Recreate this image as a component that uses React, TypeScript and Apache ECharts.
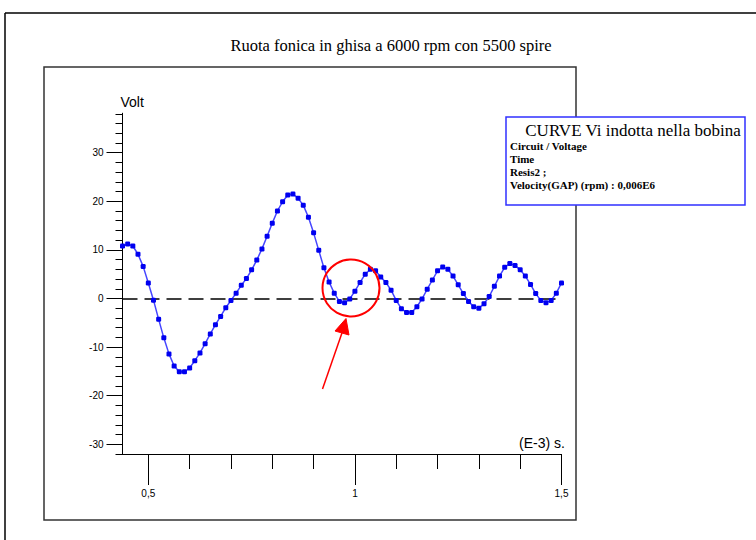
import React, { useEffect, useRef } from "react";
import * as echarts from "echarts";

const chartTitle = "Ruota fonica in ghisa a 6000 rpm con 5500 spire";
const yAxisName = "Volt";
const xAxisName = "(E-3) s.";
const legendTitle = "CURVE Vi indotta nella bobina";
const legendLines = ["Circuit / Voltage", "Time", "Resis2 ;", "Velocity(GAP) (rpm) : 0,006E6"];

// time in ms (E-3 s)
const times = [
  0.4375, 0.45, 0.4625, 0.475, 0.4875, 0.5, 0.5125, 0.525, 0.5375, 0.55,
  0.5625, 0.575, 0.5875, 0.6, 0.6125, 0.625, 0.6375, 0.65, 0.6625, 0.675,
  0.6875, 0.7, 0.7125, 0.725, 0.7375, 0.75, 0.7625, 0.775, 0.7875, 0.8,
  0.8125, 0.825, 0.8375, 0.85, 0.8625, 0.875, 0.8875, 0.9, 0.9125, 0.925,
  0.9375, 0.95, 0.9625, 0.975, 0.9875, 1.0, 1.0125, 1.025, 1.0375, 1.05,
  1.0625, 1.075, 1.0875, 1.1, 1.1125, 1.125, 1.1375, 1.15, 1.1625, 1.175,
  1.1875, 1.2, 1.2125, 1.225, 1.2375, 1.25, 1.2625, 1.275, 1.2875, 1.3,
  1.3125, 1.325, 1.3375, 1.35, 1.3625, 1.375, 1.3875, 1.4, 1.4125, 1.425,
  1.4375, 1.45, 1.4625, 1.475, 1.4875, 1.5,
];

// induced voltage (V)
const voltage = [
  10.8, 11.2, 10.8, 9.1, 6.6, 3.2, -0.35, -4.3, -8.1, -11.4,
  -13.9, -15.1, -15.1, -14.3, -12.8, -11.2, -9.3, -7.3, -5.4, -3.7,
  -1.9, -0.4, 1.1, 2.7, 4.1, 5.9, 7.9, 10.2, 12.8, 15.5,
  18.0, 19.9, 21.3, 21.5, 20.6, 19.2, 16.7, 13.5, 9.9, 6.3,
  3.4, 1.1, -0.6, -0.9, -0.1, 1.5, 3.3, 5.0, 6.0, 5.7,
  4.4, 3.3, 1.7, -0.4, -2.1, -2.9, -2.9, -1.7, -0.1, 1.9,
  3.8, 5.7, 6.5, 6.0, 4.6, 2.8, 1.0, -0.6, -1.7, -2.0,
  -1.1, 0.4, 2.5, 4.6, 6.4, 7.2, 6.8, 5.9, 4.6, 2.9,
  1.0, -0.4, -0.9, -0.4, 1.1, 3.2,
];

const xMajorTicks = [0.5, 1, 1.5];
const xMinorTicks = [0.5, 0.6, 0.7, 0.8, 0.9, 1.0, 1.1, 1.2, 1.3, 1.4, 1.5];
const yMajorTicks = [-30, -20, -10, 0, 10, 20, 30];
const yMinorTicks = [
  -32, -30, -28, -26, -24, -22, -20, -18, -16, -14, -12, -10, -8, -6, -4, -2, 0,
  2, 4, 6, 8, 10, 12, 14, 16, 18, 20, 22, 24, 26, 28, 30, 32, 34, 36, 38,
];

const X_MIN = 0.4375;
const X_MAX = 1.5;
const Y_MIN = -32;
const Y_MAX = 38.1;

const GRID = { left: 122.5, top: 113.3, width: 439, height: 340.7 };
const sans = "Liberation Sans, Arial, sans-serif";
const serif = "Liberation Serif, Times New Roman, serif";

export default function App() {
  const ref = useRef<HTMLDivElement>(null);

  useEffect(() => {
    if (!ref.current) return;
    const chart = echarts.init(ref.current, undefined, { renderer: "svg" });

    const baseX = {
      type: "value" as const,
      min: X_MIN,
      max: X_MAX,
      position: "bottom" as const,
      splitLine: { show: false },
      axisLine: { show: true, onZero: false, lineStyle: { color: "#000", width: 1 } },
    };
    const baseY = {
      type: "value" as const,
      min: Y_MIN,
      max: Y_MAX,
      position: "left" as const,
      splitLine: { show: false },
      axisLine: { show: true, onZero: false, lineStyle: { color: "#000", width: 1 } },
    };

    chart.setOption({
      animation: false,
      backgroundColor: "#fff",
      title: {
        text: chartTitle,
        left: 386,
        top: 32,
        textAlign: "center",
        textStyle: { fontFamily: serif, fontSize: 16.5, fontWeight: "normal", color: "#000" },
      },
      grid: [
        { ...GRID, containLabel: false },
        { ...GRID, containLabel: false },
      ],
      xAxis: [
        {
          ...baseX,
          gridIndex: 0,
          axisTick: { show: true, inside: false, length: 31, customValues: xMajorTicks, lineStyle: { color: "#000" } },
          axisLabel: {
            show: true,
            customValues: xMajorTicks,
            margin: 34,
            fontFamily: sans,
            fontSize: 10,
            color: "#000",
            formatter: (v: number) => String(v).replace(".", ","),
          },
        },
        {
          ...baseX,
          gridIndex: 1,
          axisTick: { show: true, inside: false, length: 15, customValues: xMinorTicks, lineStyle: { color: "#000" } },
          axisLabel: { show: false },
        },
      ],
      yAxis: [
        {
          ...baseY,
          gridIndex: 0,
          name: yAxisName,
          nameLocation: "end",
          nameGap: 4,
          nameTextStyle: { fontFamily: sans, fontSize: 14, color: "#000", align: "left", padding: [0, 0, 0, -2] },
          axisTick: { show: true, inside: false, length: 16, customValues: yMajorTicks, lineStyle: { color: "#000" } },
          axisLabel: {
            show: true,
            customValues: yMajorTicks,
            margin: 19,
            fontFamily: sans,
            fontSize: 10,
            color: "#000",
          },
        },
        {
          ...baseY,
          gridIndex: 1,
          axisTick: { show: true, inside: false, length: 7, customValues: yMinorTicks, lineStyle: { color: "#000" } },
          axisLabel: { show: false },
        },
      ],
      series: [
        {
          type: "line",
          xAxisIndex: 0,
          yAxisIndex: 0,
          data: times.map((t, i) => [t, voltage[i]]),
          symbol: "roundRect",
          symbolSize: 5,
          showSymbol: true,
          lineStyle: { color: "#4646ff", width: 1.5 },
          itemStyle: { color: "#0000f0" },
          z: 3,
          markLine: {
            silent: true,
            symbol: "none",
            label: { show: false },
            lineStyle: { color: "#000", type: [15, 7], width: 1.5 },
            data: [{ yAxis: 0 }],
            z: 2,
          },
        },
      ],
      graphic: [
        // outer frame
        { type: "line", shape: { x1: 5, y1: 13, x2: 756, y2: 13 }, style: { stroke: "#000", lineWidth: 1.5 }, silent: true },
        { type: "line", shape: { x1: 5, y1: 13, x2: 5, y2: 540 }, style: { stroke: "#000", lineWidth: 1.5 }, silent: true },
        // inner frame
        { type: "rect", shape: { x: 44, y: 67, width: 532, height: 453 }, style: { fill: "none", stroke: "#333", lineWidth: 1.5 }, silent: true, z: -1 },
        // x axis name
        {
          type: "text",
          x: 565,
          y: 443,
          style: { text: xAxisName, fontFamily: sans, fontSize: 14, fill: "#000", align: "right", verticalAlign: "middle" },
          silent: true,
        },
        // legend box
        {
          type: "rect",
          shape: { x: 506, y: 117, width: 239, height: 88 },
          style: { fill: "#fff", stroke: "#3030ff", lineWidth: 1.5 },
          silent: true,
          z: 10,
        },
        {
          type: "text",
          x: 633,
          y: 130,
          z: 11,
          style: { text: legendTitle, fontFamily: serif, fontSize: 17, fill: "#000", align: "center", verticalAlign: "middle" },
          silent: true,
        },
        ...legendLines.map((line, i) => ({
          type: "text",
          x: 510,
          y: 146 + i * 13,
          z: 11,
          style: { text: line, fontFamily: serif, fontSize: 11, fontWeight: "bold", fill: "#000", align: "left", verticalAlign: "middle" },
          silent: true,
        })),
        // red annotation circle
        {
          type: "circle",
          shape: { cx: 351, cy: 288, r: 28.5 },
          style: { fill: "none", stroke: "#ff0000", lineWidth: 2 },
          silent: true,
          z: 12,
        },
        // red arrow
        {
          type: "line",
          shape: { x1: 322.5, y1: 389, x2: 343, y2: 330 },
          style: { stroke: "#ff0000", lineWidth: 1.5 },
          silent: true,
          z: 12,
        },
        {
          type: "polygon",
          shape: { points: [[346, 318.5], [335, 331], [349, 335]] },
          style: { fill: "#ff0000", stroke: "#ff0000", lineWidth: 1 },
          silent: true,
          z: 12,
        },
      ],
    });

    return () => chart.dispose();
  }, []);

  return (
    <div
      ref={ref}
      style={{ position: "fixed", left: 0, top: 0, width: 756, height: 540, background: "#fff" }}
    />
  );
}
